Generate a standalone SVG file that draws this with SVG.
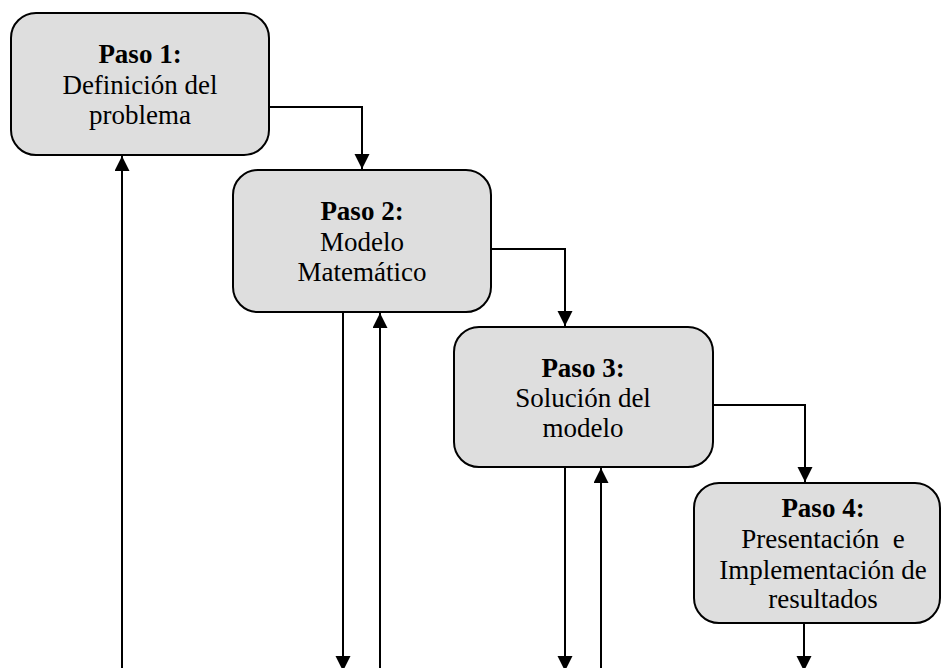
<svg xmlns="http://www.w3.org/2000/svg" width="941" height="668" viewBox="0 0 941 668">
<style>
.box{fill:#dedede;stroke:#000;stroke-width:2}
.t{font-family:"Liberation Serif","Times New Roman",serif;font-size:27px;fill:#000;text-anchor:middle;white-space:pre}
.b{font-weight:bold}
.c{fill:none;stroke:#000;stroke-width:2}
</style>
<defs>
<marker id="ah" markerUnits="userSpaceOnUse" markerWidth="16" markerHeight="16" refX="15" refY="7.5" orient="auto">
<path d="M0,0 L15,7.5 L0,15 z" fill="#000"/>
</marker>
</defs>
<rect width="941" height="668" fill="#fff"/>
<g id="connectors">
<path class="c" d="M270,107 H362 V169" marker-end="url(#ah)"/>
<path class="c" d="M491,249 H565 V326" marker-end="url(#ah)"/>
<path class="c" d="M713,405 H805 V482" marker-end="url(#ah)"/>
<path class="c" d="M804,624 V671" marker-end="url(#ah)"/>
<path class="c" d="M122,668 V156" marker-end="url(#ah)"/>
<path class="c" d="M343,312 V671" marker-end="url(#ah)"/>
<path class="c" d="M380,668 V313" marker-end="url(#ah)"/>
<path class="c" d="M565,467 V671" marker-end="url(#ah)"/>
<path class="c" d="M601,668 V468" marker-end="url(#ah)"/>
</g>
<g id="paso1">
<rect class="box" x="11" y="13" width="258" height="142" rx="25"/>
<text class="t b" x="140" y="63">Paso 1:</text>
<text class="t" x="140" y="94">Definición del</text>
<text class="t" x="140" y="124">problema</text>
</g>
<g id="paso2">
<rect class="box" x="233" y="170" width="258" height="142" rx="25"/>
<text class="t b" x="362" y="220">Paso 2:</text>
<text class="t" x="362" y="251">Modelo</text>
<text class="t" x="362" y="281">Matemático</text>
</g>
<g id="paso3">
<rect class="box" x="454" y="327" width="259" height="140" rx="25"/>
<text class="t b" x="583" y="377">Paso 3:</text>
<text class="t" x="583" y="407">Solución del</text>
<text class="t" x="583" y="437">modelo</text>
</g>
<g id="paso4">
<rect class="box" x="694" y="483" width="246" height="140" rx="25"/>
<text class="t b" x="823" y="517">Paso 4:</text>
<text class="t" x="823" y="548">Presentación  e</text>
<text class="t" x="823" y="579">Implementación de</text>
<text class="t" x="823" y="608">resultados</text>
</g>
</svg>
